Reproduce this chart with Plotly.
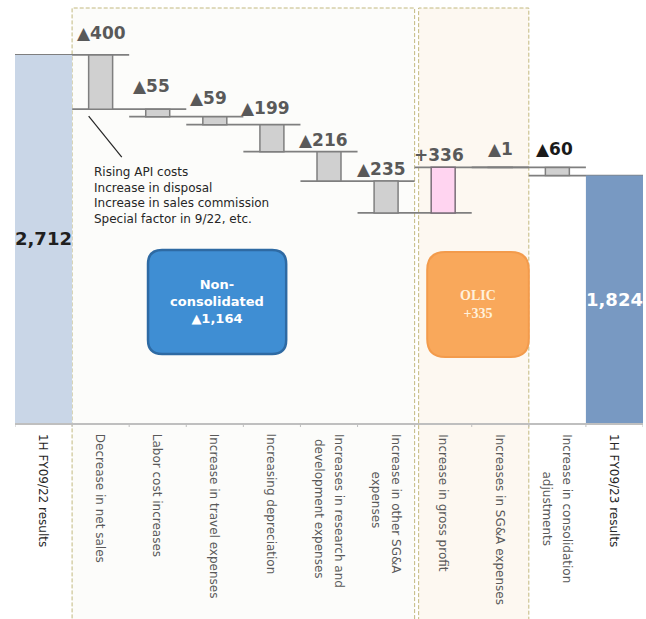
import plotly.graph_objects as go

# ---- data -------------------------------------------------------------
categories = [
    "1H FY09/22 results",
    "Decrease in net sales",
    "Labor cost increases",
    "Increase in travel expenses",
    "Increasing depreciation",
    "Increases in research and<br>development expenses",
    "Increase in other SG&A<br>expenses",
    "Increase in gross profit",
    "Increases in SG&A expenses",
    "Increase in consolidation<br>adjustments",
    "1H FY09/23 results",
]
values = [2712, -400, -55, -59, -199, -216, -235, 336, -1, -60, 1824]
is_total = [True, False, False, False, False, False, False, False, False, False, True]
value_labels = ["2,712", "▲400", "▲55", "▲59", "▲199", "▲216", "▲235",
                "+336", "▲1", "▲60", "1,824"]

# ---- layout constants -------------------------------------------------
W, H = 646, 619
M_L, M_R, M_T, M_B = 15, 3, 8, 196
Y_MAX = 3058
PLOT_H = H - M_T - M_B
PX_CAT = (W - M_L - M_R) / len(categories)
PX_UNIT = PLOT_H / Y_MAX

FONT = "DejaVu Sans"
GRAY_TXT = "#595959"
LINE_GRAY = "#7F7F7F"
AXIS_GRAY = "#BFBFBF"

TICK_FONT_SIZE = 12
TICK_CHAR_W = 6.15      # average advance of the tick font, px per character
TICK_LINE_GAP = 20      # distance between wrapped lines of a category name, px
TICK_PAD = 9            # gap between the axis line and the category names, px

# ---- waterfall geometry from the values --------------------------------
bases, heights, levels = [], [], []
level = 0
for v, tot in zip(values, is_total):
    if tot:
        bases.append(0)
        heights.append(v)
        level = v
    else:
        bases.append(level)
        heights.append(v)
        level += v
    levels.append(level)

x = list(range(len(categories)))
fill_colors = []
edge_colors = []
edge_widths = []
bar_widths = []
for i, (v, tot) in enumerate(zip(values, is_total)):
    if tot:
        fill_colors.append("#C9D6E7" if i == 0 else "#7899C2")
        edge_colors.append("rgba(0,0,0,0)")
        edge_widths.append(0)
        bar_widths.append(1.0)
    else:
        fill_colors.append("#FFD4F0" if v > 0 else "#D0D0D0")
        edge_colors.append("#7A6E78" if v > 0 else LINE_GRAY)
        edge_widths.append(1.5)
        bar_widths.append(0.42)

fig = go.Figure()
fig.add_trace(go.Bar(
    x=x, y=heights, base=bases, width=bar_widths,
    marker=dict(color=fill_colors, line=dict(color=edge_colors, width=edge_widths)),
    hoverinfo="skip", showlegend=False,
))

shapes = []

# dashed group frames
frame_line = dict(color="#C2B87E", width=1, dash="4px,2px")
shapes.append(dict(type="rect", xref="x", yref="paper", x0=0.5, x1=6.5, y0=-0.5, y1=1,
                   fillcolor="#FCFCFA", line=frame_line, layer="below"))
shapes.append(dict(type="rect", xref="x", yref="paper", x0=6.57, x1=8.5, y0=-0.5, y1=1,
                   fillcolor="#FDF8F1", line=frame_line, layer="below"))

# level connectors: each running level spans its own category and the next
for i in range(len(categories) - 1):
    shapes.append(dict(type="line", xref="x", yref="y",
                       x0=i - 0.5, x1=i + 1.5, y0=levels[i], y1=levels[i],
                       line=dict(color=LINE_GRAY, width=1.75), layer="below"))

# category boundary ticks below the axis
for i in range(len(categories) + 1):
    shapes.append(dict(type="line", xref="x", yref="paper",
                       x0=i - 0.5, x1=i - 0.5, y0=0, y1=-4 / PLOT_H,
                       line=dict(color=AXIS_GRAY, width=1)))

# leader line for the net-sales note
shapes.append(dict(type="line", xref="x", yref="y", x0=0.79, y0=2262, x1=1.37, y1=1960,
                   line=dict(color="#262626", width=1.2)))


def rounded_rect(x0, x1, y0, y1, r_px):
    rx = r_px / PX_CAT
    ry = r_px / PX_UNIT
    return (f"M {x0 + rx},{y1} L {x1 - rx},{y1} Q {x1},{y1} {x1},{y1 - ry} "
            f"L {x1},{y0 + ry} Q {x1},{y0} {x1 - rx},{y0} "
            f"L {x0 + rx},{y0} Q {x0},{y0} {x0},{y0 + ry} "
            f"L {x0},{y1 - ry} Q {x0},{y1} {x0 + rx},{y1} Z")


shapes.append(dict(type="path", xref="x", yref="y",
                   path=rounded_rect(1.83, 4.25, 508, 1275, 14),
                   fillcolor="#3F8ED3", line=dict(color="#2E6AA3", width=2.5)))
shapes.append(dict(type="path", xref="x", yref="y",
                   path=rounded_rect(6.72, 8.50, 486, 1260, 18),
                   fillcolor="#F9A85B", line=dict(color="#F39B4C", width=2)))

annotations = []

# value labels
label_dx = [0, 1, -6.5, -6, -6.5, -6, -5, -4, 0, -3, 0]
label_dy = [0, 21.5, 23, 19, 17, 11.5, 12.5, 12.5, 18, 18.5, 0]
label_colors = ["#1F1F1F", GRAY_TXT, GRAY_TXT, GRAY_TXT, GRAY_TXT, GRAY_TXT, GRAY_TXT,
                GRAY_TXT, GRAY_TXT, "#1A1A1A", "#FFFFFF"]
for i, (lab, tot) in enumerate(zip(value_labels, is_total)):
    if tot:
        ypos = values[i] / 2
        size = 18
    else:
        ypos = max(bases[i], bases[i] + heights[i])
        size = 17
    annotations.append(dict(
        x=i, y=ypos, xref="x", yref="y", text=lab, showarrow=False,
        xanchor="center", yanchor="middle", xshift=label_dx[i], yshift=label_dy[i],
        font=dict(family=FONT, size=size, color=label_colors[i], weight="bold"),
    ))

# category names, rotated to read downwards; wrapped names are centred
# along the longest line and stacked right-to-left
for i, c in enumerate(categories):
    parts = c.split("<br>")
    n = len(parts)
    longest = max(parts, key=len)
    mid = TICK_PAD + len(longest) * TICK_CHAR_W / 2
    col = "#262626" if is_total[i] else GRAY_TXT
    for k, part in enumerate(parts):
        common = dict(x=i, y=0, xref="x", yref="y", text=part, showarrow=False,
                      textangle=90, xanchor="center",
                      xshift=((n - 1) / 2 - k) * TICK_LINE_GAP,
                      font=dict(family=FONT, size=TICK_FONT_SIZE, color=col))
        if part == longest:
            annotations.append(dict(yanchor="top", yshift=-TICK_PAD, **common))
        else:
            annotations.append(dict(yanchor="middle", yshift=-mid, **common))

# note under the net-sales step
annotations.append(dict(
    x=0.85, y=1916, xref="x", yref="y", xanchor="left", yanchor="top",
    text="Rising API costs<br>Increase in disposal<br>Increase in sales commission"
         "<br>Special factor in 9/22, etc.",
    align="left", showarrow=False,
    font=dict(family=FONT, size=12, color="#262626"),
))

# group summary boxes
annotations.append(dict(
    x=3.04, y=892, xref="x", yref="y",
    text="<b>Non-</b><br><b>consolidated</b><br><b>▲1,164</b>",
    showarrow=False, align="center",
    font=dict(family=FONT, size=13, color="#FFFFFF"),
))
annotations.append(dict(
    x=7.61, y=873, xref="x", yref="y", text="<b>OLIC</b><br><b>+335</b>",
    showarrow=False, align="center",
    font=dict(family="Liberation Serif", size=14, color="#FFF1DC"),
))

fig.update_layout(
    width=W, height=H,
    margin=dict(l=M_L, r=M_R, t=M_T, b=M_B),
    paper_bgcolor="#FFFFFF", plot_bgcolor="#FFFFFF",
    barmode="overlay",
    shapes=shapes, annotations=annotations,
    showlegend=False,
    xaxis=dict(
        range=[-0.5, len(categories) - 0.5], tickmode="array", tickvals=x,
        showticklabels=False, ticks="", showgrid=False, zeroline=False,
        showline=True, linecolor=AXIS_GRAY, linewidth=1.5,
    ),
    yaxis=dict(range=[0, Y_MAX], visible=False, showgrid=False, zeroline=False),
)

fig.write_html("out.html", config={"displayModeBar": False})
